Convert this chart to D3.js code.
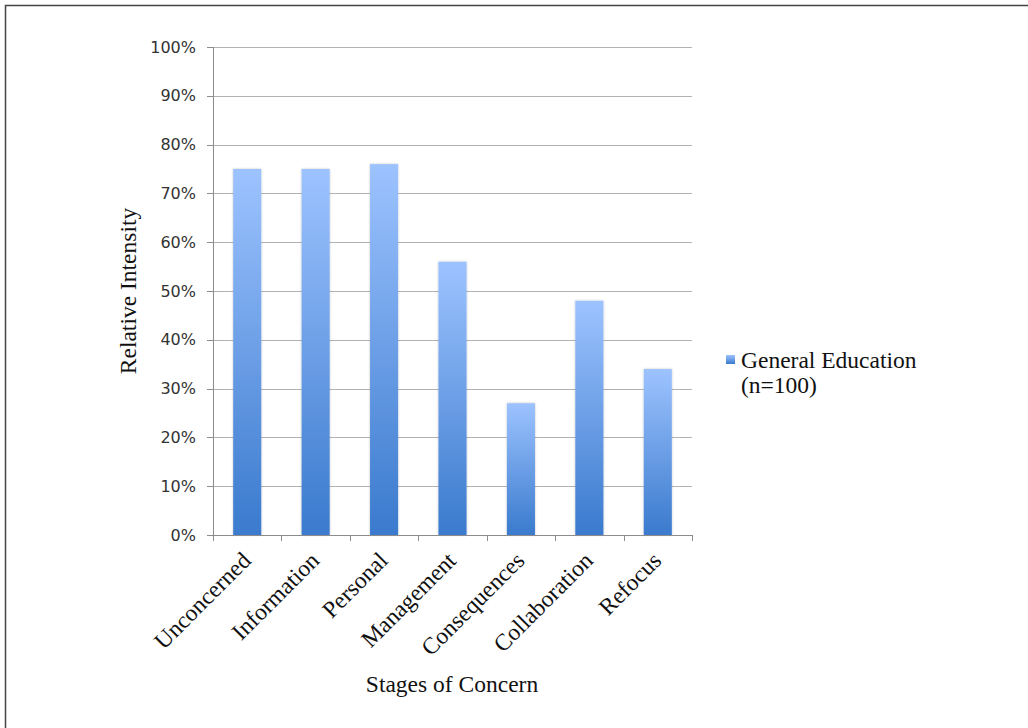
<!DOCTYPE html>
<html>
<head>
<meta charset="utf-8">
<script src="https://cdn.jsdelivr.net/npm/d3@7"></script>
<style>
  body { margin: 0; background: #fff; }
  .axis path, .axis line { stroke: #8c8c8c; shape-rendering: crispEdges; }
  .y-axis text { font-family: "DejaVu Sans", Verdana, sans-serif; font-size: 16px; fill: #333; }
  .x-axis text { font-family: "Liberation Serif", "Times New Roman", serif; font-size: 23.5px; fill: #111; }
  .grid line { stroke: #b3b3b3; shape-rendering: crispEdges; }
  .title { font-family: "Liberation Serif", "Times New Roman", serif; font-size: 23.5px; fill: #111; }
  .legend-text { font-family: "Liberation Serif", "Times New Roman", serif; font-size: 23.5px; fill: #111; }
</style>
</head>
<body>
<div id="chart"></div>
<script>
// data
var stages = ["Unconcerned", "Information", "Personal", "Management", "Consequences", "Collaboration", "Refocus"];
var values = [75, 75, 76, 56, 27, 48, 34];
var yTicks = [0, 10, 20, 30, 40, 50, 60, 70, 80, 90, 100];
var seriesName = ["General Education", "(n=100)"];

var margin = {top: 47, left: 213};
var width = 479;
var height = 488;

var svg = d3.select("#chart")
            .append("svg")
              .attr("width", 1028)
              .attr("height", 728);

// frame
svg.append("path")
    .attr("d", "M5.5,728 V5.5 H1028")
    .attr("fill", "none")
    .attr("stroke", "#444")
    .attr("stroke-width", 1.5);

var defs = svg.append("defs");
var grad = defs.append("linearGradient")
                .attr("id", "barGrad")
                .attr("x1", 0).attr("y1", 0)
                .attr("x2", 0).attr("y2", 1);
grad.append("stop").attr("offset", "0%").attr("stop-color", "#9dc3ff");
grad.append("stop").attr("offset", "100%").attr("stop-color", "#3a7acd");

var filter = defs.append("filter").attr("id", "shadow")
                  .attr("x", "-20%").attr("y", "-5%").attr("width", "140%").attr("height", "110%");
filter.append("feDropShadow")
      .attr("dx", 0).attr("dy", 0)
      .attr("stdDeviation", 1.2)
      .attr("flood-color", "#000")
      .attr("flood-opacity", 0.25);

var chart = svg.append("g")
                .attr("transform", "translate(" + margin.left + "," + margin.top + ")");

// scales
var xScale = d3.scaleBand()
                .domain(stages)
                .range([0, width])
                .paddingInner(0.59)
                .paddingOuter(0.295);

var yScale = d3.scaleLinear()
                .domain([0, 100])
                .range([height, 0]);

// gridlines
chart.append("g")
      .attr("class", "grid")
      .selectAll("line")
      .data(yTicks.slice(1))
      .enter()
     .append("line")
      .attr("x1", 0)
      .attr("x2", width)
      .attr("y1", function(d) { return yScale(d) + 0.5; })
      .attr("y2", function(d) { return yScale(d) + 0.5; });

// bars
chart.selectAll(".bar")
      .data(values)
      .enter()
     .append("rect")
      .attr("class", "bar")
      .attr("x", function(d, i) { return xScale(stages[i]); })
      .attr("y", function(d) { return yScale(d); })
      .attr("width", xScale.bandwidth())
      .attr("height", function(d) { return height - yScale(d); })
      .attr("fill", "url(#barGrad)")
      .attr("filter", "url(#shadow)");

// y axis
var yAxis = d3.axisLeft(yScale)
              .tickValues(yTicks)
              .tickSize(6)
              .tickPadding(11)
              .tickFormat(function(d) { return d + "%"; });

chart.append("g")
      .attr("class", "axis y-axis")
      .call(yAxis)
      .call(function(g) { g.select(".domain").attr("d", "M0.5," + height + "V0"); });

// x axis - ticks at band boundaries
var xAxisG = chart.append("g")
                    .attr("class", "axis x-axis")
                    .attr("transform", "translate(0," + height + ")");

xAxisG.append("line")
      .attr("x1", 0).attr("x2", width)
      .attr("y1", 0.5).attr("y2", 0.5);

xAxisG.selectAll(".tick-mark")
      .data(d3.range(stages.length + 1))
      .enter()
     .append("line")
      .attr("class", "tick-mark")
      .attr("x1", function(i) { return Math.round(i * width / stages.length) + 0.5; })
      .attr("x2", function(i) { return Math.round(i * width / stages.length) + 0.5; })
      .attr("y1", 0)
      .attr("y2", 6);

xAxisG.selectAll(".cat-label")
      .data(stages)
      .enter()
     .append("text")
      .attr("class", "cat-label")
      .attr("text-anchor", "end")
      .attr("transform", function(d) {
        var cx = xScale(d) + xScale.bandwidth() / 2 + 5;
        return "translate(" + cx + ",27) rotate(-45)";
      })
      .text(function(d) { return d; });

// axis titles
svg.append("text")
    .attr("class", "title")
    .attr("text-anchor", "middle")
    .attr("transform", "translate(136," + (margin.top + height / 2) + ") rotate(-90)")
    .text("Relative Intensity");

svg.append("text")
    .attr("class", "title")
    .attr("text-anchor", "middle")
    .attr("x", 452)
    .attr("y", 692)
    .text("Stages of Concern");

// legend
var legend = svg.append("g")
                .attr("class", "legend")
                .attr("transform", "translate(726,355)");

legend.append("rect")
      .attr("width", 9)
      .attr("height", 9)
      .attr("fill", "url(#barGrad)");

legend.selectAll(".legend-text")
      .data(seriesName)
      .enter()
     .append("text")
      .attr("class", "legend-text")
      .attr("x", 15)
      .attr("y", function(d, i) { return 13 + i * 25; })
      .text(function(d) { return d; });
</script>
</body>
</html>
